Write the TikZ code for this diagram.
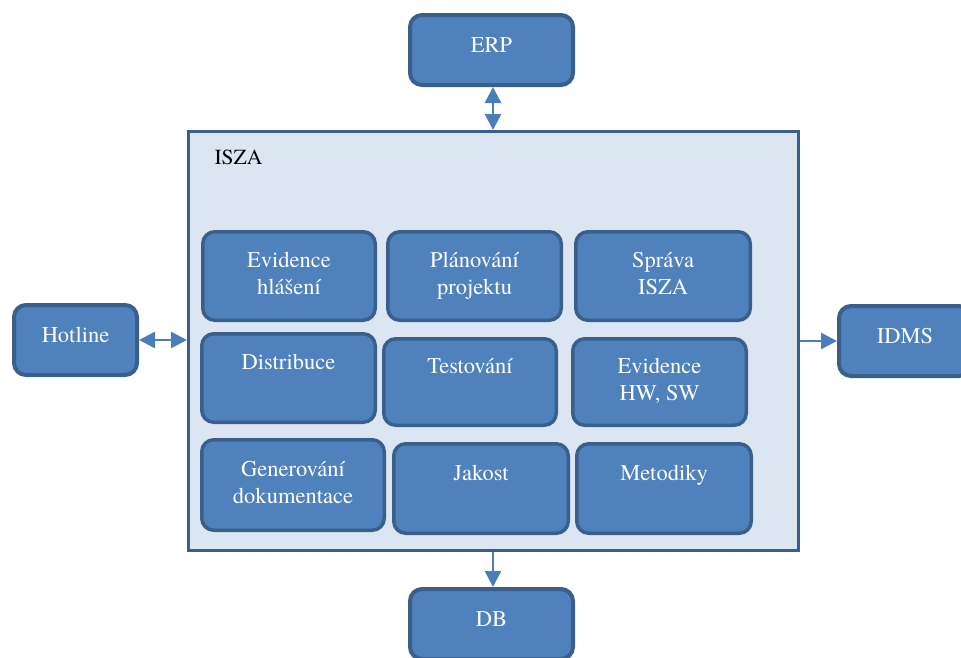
\documentclass[tikz,border=0pt]{standalone}
\usepackage{fontspec}
\setmainfont{texgyretermes-regular.otf}[BoldFont=texgyretermes-bold.otf]
\usetikzlibrary{arrows.meta}
\definecolor{boxfill}{HTML}{4F81BD}
\definecolor{boxline}{HTML}{3A5F8B}
\definecolor{panelfill}{HTML}{DCE6F2}
\definecolor{arrowblue}{HTML}{4A7EBB}
\tikzset{
  outerbox/.style={draw=boxline, fill=boxfill, line width=4pt, rounded corners=12pt,
    inner sep=0pt, text=white, font=\fontsize{22.5}{27}\selectfont,
    text height=16pt, text depth=12pt},
  modbox/.style={draw=boxline, fill=boxfill, line width=3.5pt, rounded corners=12pt,
    inner sep=0pt, text=white, align=center, font=\fontsize{22.5}{27}\selectfont},
  panel/.style={draw=boxline, fill=panelfill, line width=3pt, inner sep=0pt},
  conn/.style={draw=arrowblue, line width=2.5pt},
  tip/.tip={Triangle[length=16pt,width=16pt]}
}
\begin{document}
\begin{tikzpicture}[x=1pt,y=-1pt]
\useasboundingbox (0,0) rectangle (961,657);
\clip (0,0) rectangle (961,657);

% main system panel
\node[panel, minimum width=610pt, minimum height=419pt] (isza) at (493.5,341) {};
\node[anchor=base west, font=\fontsize{21.5}{25}\selectfont] (iszalabel) at (211,164) {ISZA};

% surrounding systems
\node[outerbox, minimum width=163pt, minimum height=70pt] (erp) at (491.5,50) {ERP};
\node[outerbox, minimum width=123pt, minimum height=70pt] (hotline) at (75.5,340) {Hotline};
\node[outerbox, minimum width=132pt, minimum height=70pt] (idms) at (905,341) {IDMS};
\node[outerbox, minimum width=163pt, minimum height=70pt] (db) at (491.5,624) {DB};

% modules inside the panel
\node[modbox, minimum width=172.5pt, minimum height=88.5pt] (evh) at (289,276) {\strut Evidence\\\strut hlášení};
\node[modbox, minimum width=173.5pt, minimum height=88.5pt] (plan) at (474.5,276) {\strut Plánování\\\strut projektu};
\node[modbox, minimum width=174.5pt, minimum height=88.5pt] (sprava) at (663,276) {\strut Správa\\\strut ISZA};
\node[modbox, minimum width=173.5pt, minimum height=88.5pt] (dist) at (288.5,378) {\strut Distribuce\\\strut};
\node[modbox, minimum width=172.5pt, minimum height=86.5pt] (test) at (470,382) {\strut Testování\\\strut};
\node[modbox, minimum width=173.5pt, minimum height=86.5pt] (evhw) at (659.5,382) {\strut Evidence\\\strut HW, SW};
\node[modbox, minimum width=182.5pt, minimum height=90.5pt] (gen) at (293,485) {\strut Generování\\\strut dokumentace};
\node[modbox, minimum width=174.5pt, minimum height=89.5pt] (jakost) at (481,488.5) {\strut Jakost\\\strut};
\node[modbox, minimum width=174.5pt, minimum height=89.5pt] (metod) at (664,488.5) {\strut Metodiky\\\strut};

% connectors
\draw[conn, tip-tip] (erp.south) ++(1.5,0) coordinate (erpport) -- (erpport |- isza.north);
\draw[conn, tip-tip] (hotline.east) -- (hotline.east -| isza.west);
\draw[conn, -tip] (isza.east |- idms.west) -- (idms.west);
\draw[conn, -tip] (isza.south -| db.north) ++(1.5,0) coordinate (dbport) -- (dbport |- db.north);
\end{tikzpicture}
\end{document}
